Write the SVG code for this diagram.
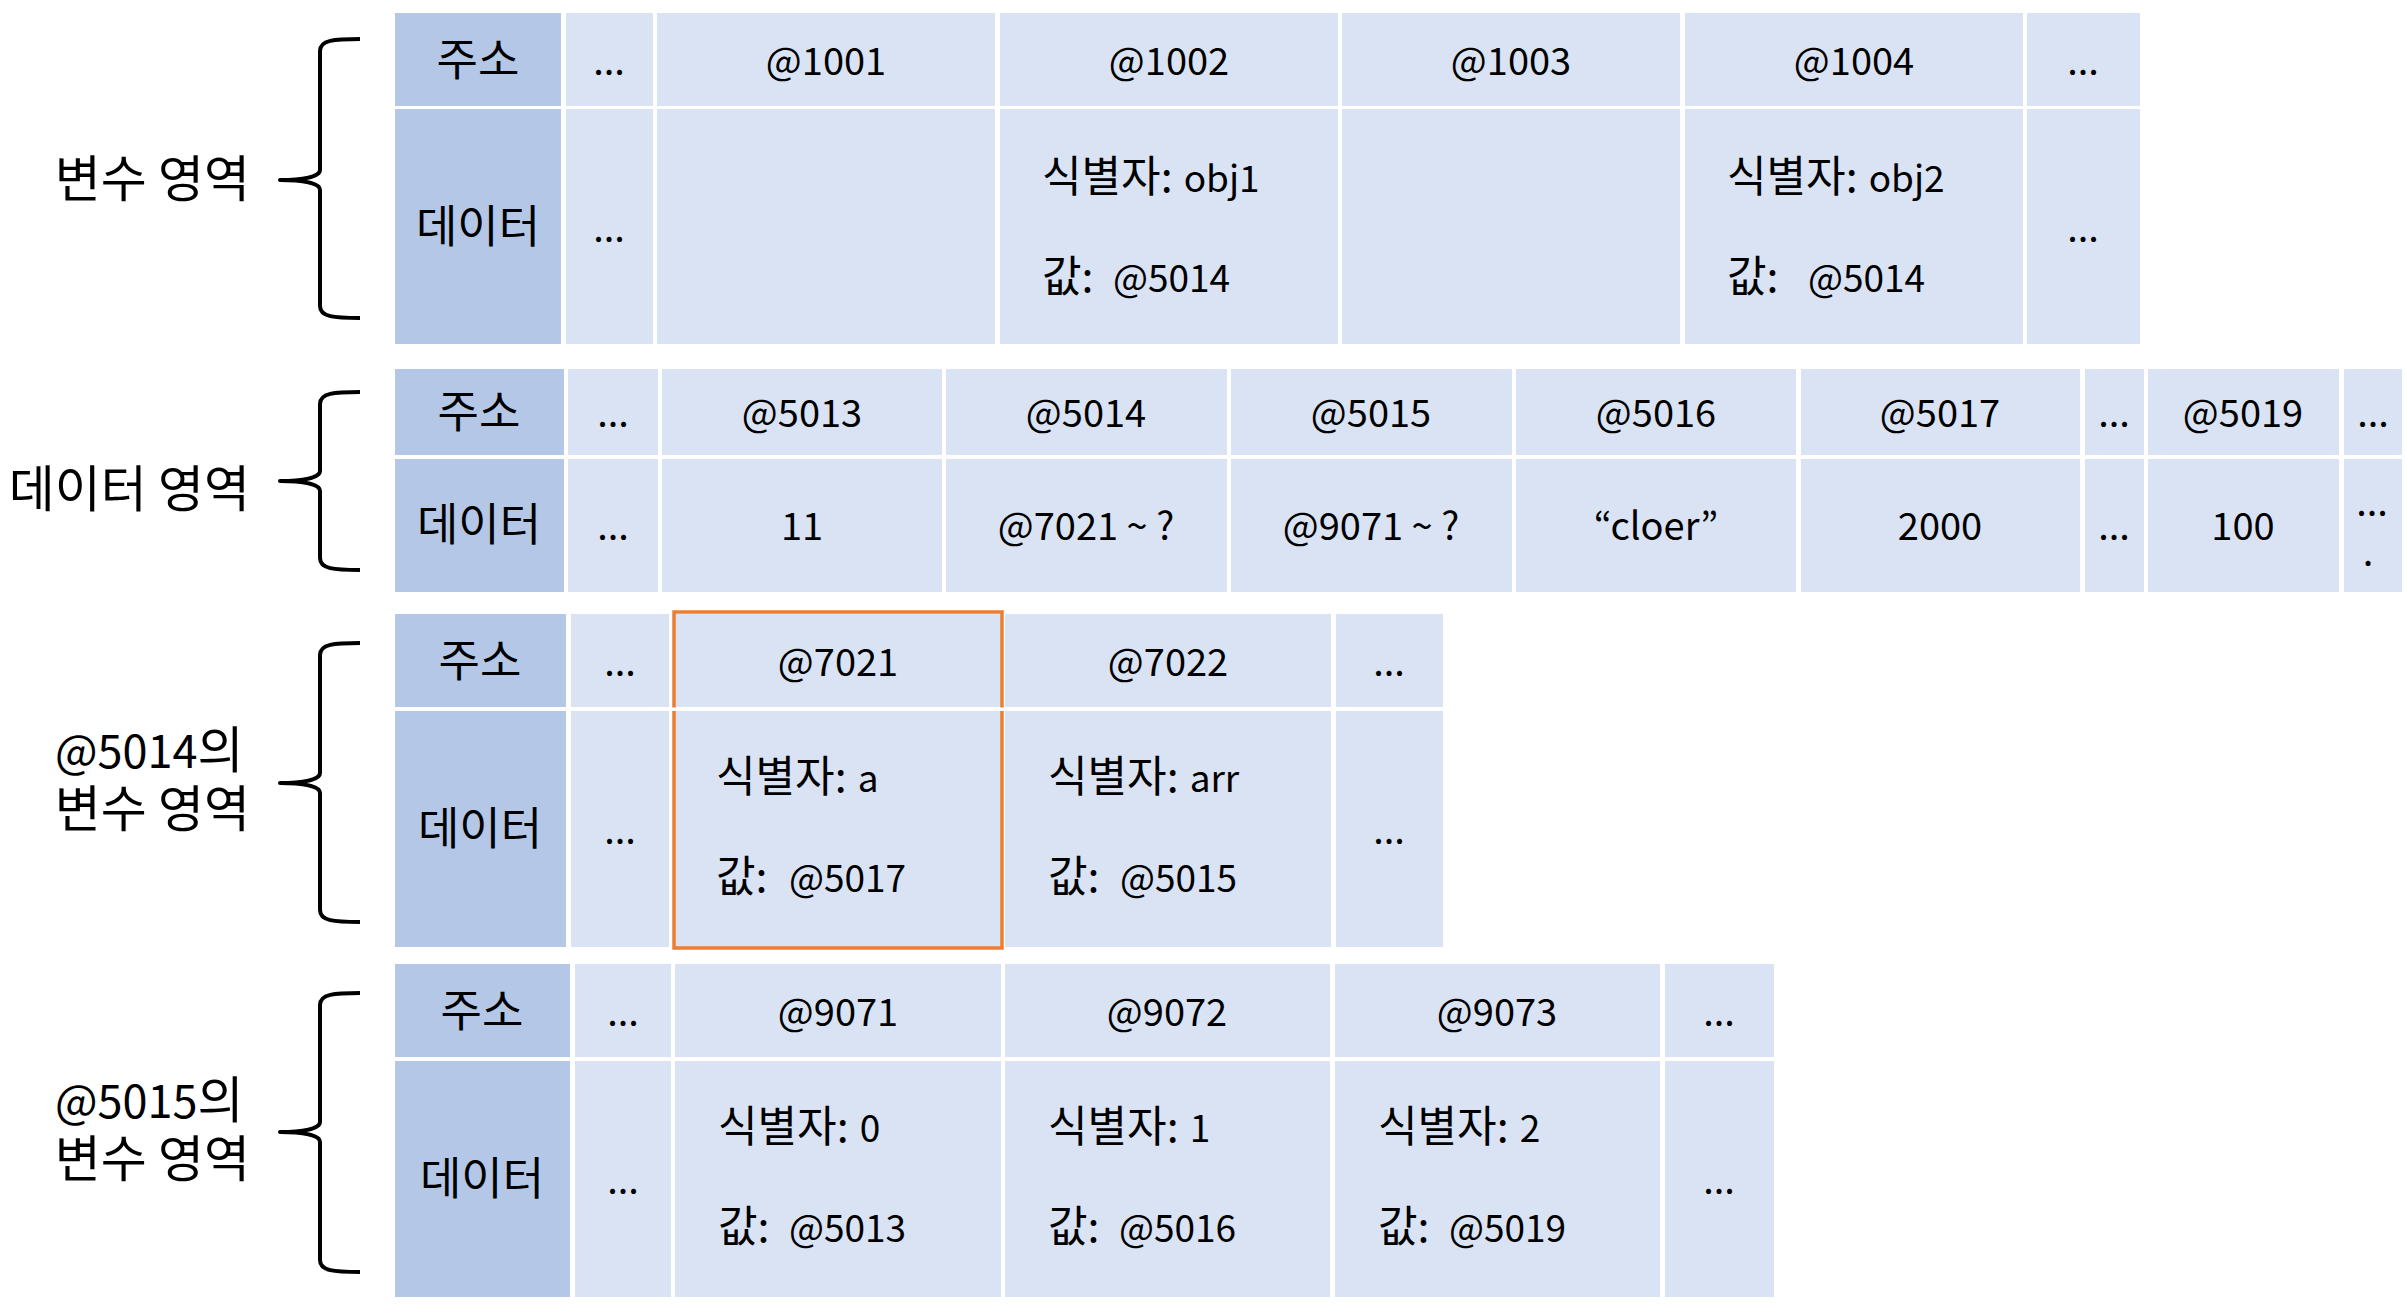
<svg xmlns="http://www.w3.org/2000/svg" width="2406" height="1316" viewBox="0 0 2406 1316">
<style>
  text { font-family: "Noto Sans CJK KR", "Noto Sans", sans-serif; fill: #000; }
  .hd { fill: #B4C7E7; }
  .cl { fill: #DAE3F3; }
  .c { text-anchor: middle; font-size: 38px; }
  .k { text-anchor: middle; font-size: 45px; }
  .v { font-size: 37px; }
  .ko { font-size: 43px; }
  .lbl { font-size: 50px; }
  .lat { font-size: 45px; }
  .end { text-anchor: end; }
  .brace { fill: none; stroke: #000; stroke-width: 4; stroke-linejoin: round; }
  .sel { fill: none; stroke: #ED7D31; stroke-width: 3.5; }
</style>
<rect width="2406" height="1316" fill="#FFFFFF"/>

<!-- Braces -->
<g id="connectors">
  <path class="brace" d="M360,39 C334,39 320,40 320,51 L320,170 C320,177 302,180 280,180 C302,180 320,183 320,190 L320,306 C320,317 334,318 360,318"/>
  <path class="brace" d="M360,392 C334,392 320,393 320,404 L320,471 C320,478 302,481 280,481 C302,481 320,484 320,491 L320,558 C320,569 334,570 360,570"/>
  <path class="brace" d="M360,643 C334,643 320,644 320,655 L320,773 C320,780 302,783 280,783 C302,783 320,786 320,793 L320,910 C320,921 334,922 360,922"/>
  <path class="brace" d="M360,993 C334,993 320,994 320,1005 L320,1122 C320,1129 302,1132 280,1132 C302,1132 320,1135 320,1142 L320,1260 C320,1271 334,1272 360,1272"/>
</g>

<g id="label-var">
  <text class="lbl end" x="250" y="197">변수 영역</text>
</g>
<g id="label-data">
  <text class="lbl end" x="250" y="507">데이터 영역</text>
</g>
<g id="label-5014">
  <text class="lbl"><tspan x="55" y="768"><tspan class="lat">@5014</tspan>의</tspan><tspan x="250" y="827" text-anchor="end">변수 영역</tspan></text>
</g>
<g id="label-5015">
  <text class="lbl"><tspan x="55" y="1118"><tspan class="lat">@5015</tspan>의</tspan><tspan x="250" y="1177" text-anchor="end">변수 영역</tspan></text>
</g>

<!-- Table 1: 변수 영역 -->
<g id="table-var">
  <rect class="hd" x="395" y="13" width="166" height="93"/>
  <rect class="hd" x="395" y="109" width="166" height="235"/>
  <rect class="cl" x="566" y="13" width="87" height="93"/>
  <rect class="cl" x="566" y="109" width="87" height="235"/>
  <rect class="cl" x="657" y="13" width="338" height="93"/>
  <rect class="cl" x="657" y="109" width="338" height="235"/>
  <rect class="cl" x="1000" y="13" width="338" height="93"/>
  <rect class="cl" x="1000" y="109" width="338" height="235"/>
  <rect class="cl" x="1342" y="13" width="338" height="93"/>
  <rect class="cl" x="1342" y="109" width="338" height="235"/>
  <rect class="cl" x="1685" y="13" width="338" height="93"/>
  <rect class="cl" x="1685" y="109" width="338" height="235"/>
  <rect class="cl" x="2027" y="13" width="113" height="93"/>
  <rect class="cl" x="2027" y="109" width="113" height="235"/>
  <text class="k" x="478" y="76">주소</text>
  <text class="k" x="478" y="243">데이터</text>
  <text class="c" x="609" y="75">...</text>
  <text class="c" x="609" y="242">...</text>
  <text class="c" x="826" y="75">@1001</text>
  <text class="c" x="1169" y="75">@1002</text>
  <text class="c" x="1511" y="75">@1003</text>
  <text class="c" x="1854" y="75">@1004</text>
  <text class="c" x="2083" y="75">...</text>
  <text class="c" x="2083" y="242">...</text>
  <text x="1042" y="192"><tspan class="ko">식별자:</tspan><tspan class="v" dx="11">obj1</tspan></text>
  <text x="1042" y="292"><tspan class="ko">값:</tspan><tspan class="v" x="1113">@5014</tspan></text>
  <text x="1727" y="192"><tspan class="ko">식별자:</tspan><tspan class="v" dx="11">obj2</tspan></text>
  <text x="1727" y="292"><tspan class="ko">값:</tspan><tspan class="v" x="1808">@5014</tspan></text>
</g>

<!-- Table 2: 데이터 영역 -->
<g id="table-data">
  <rect class="hd" x="395" y="369" width="169" height="86"/>
  <rect class="hd" x="395" y="459" width="169" height="133"/>
  <rect class="cl" x="568" y="369" width="90" height="86"/>
  <rect class="cl" x="568" y="459" width="90" height="133"/>
  <rect class="cl" x="662" y="369" width="280" height="86"/>
  <rect class="cl" x="662" y="459" width="280" height="133"/>
  <rect class="cl" x="946" y="369" width="281" height="86"/>
  <rect class="cl" x="946" y="459" width="281" height="133"/>
  <rect class="cl" x="1231" y="369" width="281" height="86"/>
  <rect class="cl" x="1231" y="459" width="281" height="133"/>
  <rect class="cl" x="1516" y="369" width="280" height="86"/>
  <rect class="cl" x="1516" y="459" width="280" height="133"/>
  <rect class="cl" x="1801" y="369" width="279" height="86"/>
  <rect class="cl" x="1801" y="459" width="279" height="133"/>
  <rect class="cl" x="2085" y="369" width="59" height="86"/>
  <rect class="cl" x="2085" y="459" width="59" height="133"/>
  <rect class="cl" x="2148" y="369" width="191" height="86"/>
  <rect class="cl" x="2148" y="459" width="191" height="133"/>
  <rect class="cl" x="2344" y="369" width="58" height="86"/>
  <rect class="cl" x="2344" y="459" width="58" height="133"/>
  <text class="k" x="479" y="428">주소</text>
  <text class="k" x="479" y="541">데이터</text>
  <text class="c" x="613" y="427">...</text>
  <text class="c" x="613" y="540">...</text>
  <text class="c" x="802" y="427">@5013</text>
  <text class="c" x="802" y="540">11</text>
  <text class="c" x="1086" y="427">@5014</text>
  <text class="c" x="1086" y="540">@7021 ~ ?</text>
  <text class="c" x="1371" y="427">@5015</text>
  <text class="c" x="1371" y="540">@9071 ~ ?</text>
  <text class="c" x="1656" y="427">@5016</text>
  <text class="c" x="1656" y="540">“cloer”</text>
  <text class="c" x="1940" y="427">@5017</text>
  <text class="c" x="1940" y="540">2000</text>
  <text class="c" x="2114" y="427">...</text>
  <text class="c" x="2114" y="540">...</text>
  <text class="c" x="2243" y="427">@5019</text>
  <text class="c" x="2243" y="540">100</text>
  <text class="c" x="2373" y="427">...</text>
  <text class="c"><tspan x="2372" y="516">...</tspan><tspan x="2368" y="566">.</tspan></text>
</g>

<!-- Table 3: @5014의 변수 영역 -->
<g id="table-5014">
  <rect class="hd" x="395" y="614" width="171" height="93"/>
  <rect class="hd" x="395" y="711" width="171" height="236"/>
  <rect class="cl" x="571" y="614" width="98" height="93"/>
  <rect class="cl" x="571" y="711" width="98" height="236"/>
  <rect class="cl" x="673" y="614" width="330" height="93"/>
  <rect class="cl" x="673" y="711" width="330" height="236"/>
  <rect class="cl" x="1005" y="614" width="326" height="93"/>
  <rect class="cl" x="1005" y="711" width="326" height="236"/>
  <rect class="cl" x="1336" y="614" width="107" height="93"/>
  <rect class="cl" x="1336" y="711" width="107" height="236"/>
  <rect class="sel" x="674" y="612" width="328" height="336"/>
  <rect x="670" y="707.5" width="336" height="3.5" fill="#FFFFFF"/>
  <text class="k" x="480" y="677">주소</text>
  <text class="k" x="480" y="845">데이터</text>
  <text class="c" x="620" y="676">...</text>
  <text class="c" x="620" y="844">...</text>
  <text class="c" x="838" y="676">@7021</text>
  <text class="c" x="1168" y="676">@7022</text>
  <text class="c" x="1389" y="676">...</text>
  <text class="c" x="1389" y="844">...</text>
  <text x="716" y="792"><tspan class="ko">식별자:</tspan><tspan class="v" dx="11">a</tspan></text>
  <text x="716" y="892"><tspan class="ko">값:</tspan><tspan class="v" x="789">@5017</tspan></text>
  <text x="1048" y="792"><tspan class="ko">식별자:</tspan><tspan class="v" dx="11">arr</tspan></text>
  <text x="1048" y="892"><tspan class="ko">값:</tspan><tspan class="v" x="1120">@5015</tspan></text>
</g>

<!-- Table 4: @5015의 변수 영역 -->
<g id="table-5015">
  <rect class="hd" x="395" y="964" width="175" height="93"/>
  <rect class="hd" x="395" y="1061" width="175" height="236"/>
  <rect class="cl" x="575" y="964" width="96" height="93"/>
  <rect class="cl" x="575" y="1061" width="96" height="236"/>
  <rect class="cl" x="675" y="964" width="326" height="93"/>
  <rect class="cl" x="675" y="1061" width="326" height="236"/>
  <rect class="cl" x="1005" y="964" width="325" height="93"/>
  <rect class="cl" x="1005" y="1061" width="325" height="236"/>
  <rect class="cl" x="1335" y="964" width="325" height="93"/>
  <rect class="cl" x="1335" y="1061" width="325" height="236"/>
  <rect class="cl" x="1665" y="964" width="109" height="93"/>
  <rect class="cl" x="1665" y="1061" width="109" height="236"/>
  <text class="k" x="482" y="1027">주소</text>
  <text class="k" x="482" y="1195">데이터</text>
  <text class="c" x="623" y="1026">...</text>
  <text class="c" x="623" y="1194">...</text>
  <text class="c" x="838" y="1026">@9071</text>
  <text class="c" x="1167" y="1026">@9072</text>
  <text class="c" x="1497" y="1026">@9073</text>
  <text class="c" x="1719" y="1026">...</text>
  <text class="c" x="1719" y="1194">...</text>
  <text x="718" y="1142"><tspan class="ko">식별자:</tspan><tspan class="v" dx="11">0</tspan></text>
  <text x="718" y="1242"><tspan class="ko">값:</tspan><tspan class="v" x="789">@5013</tspan></text>
  <text x="1048" y="1142"><tspan class="ko">식별자:</tspan><tspan class="v" dx="11">1</tspan></text>
  <text x="1048" y="1242"><tspan class="ko">값:</tspan><tspan class="v" x="1119">@5016</tspan></text>
  <text x="1378" y="1142"><tspan class="ko">식별자:</tspan><tspan class="v" dx="11">2</tspan></text>
  <text x="1378" y="1242"><tspan class="ko">값:</tspan><tspan class="v" x="1449">@5019</tspan></text>
</g>
</svg>
